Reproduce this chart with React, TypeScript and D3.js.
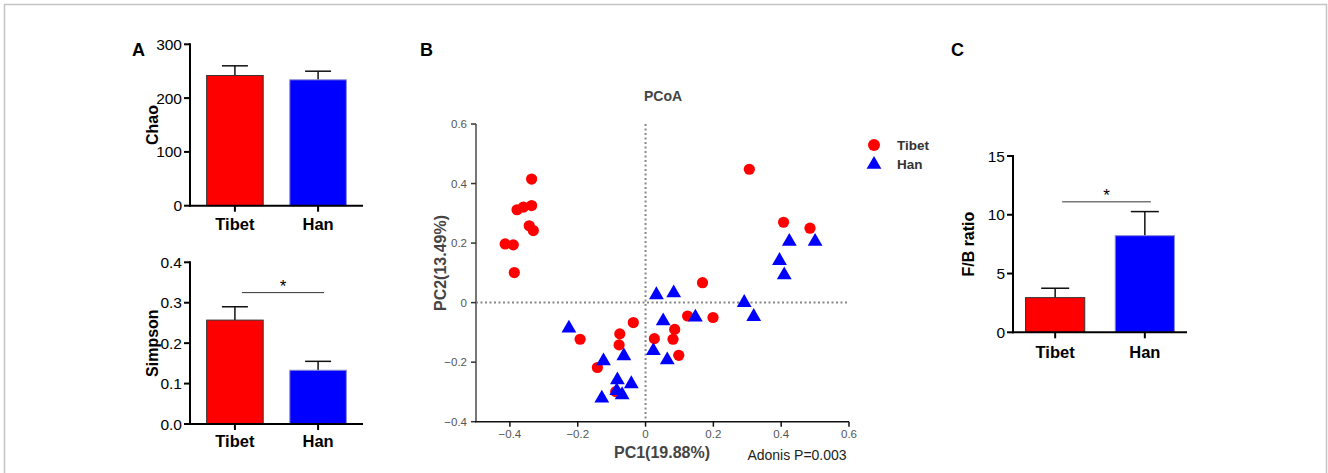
import React from 'react';
import * as d3 from 'd3';

// groups
const groups = ['Tibet', 'Han'];
const barColors = ['#ff0000', '#0000ff'];
const barStrokes = ['#333333', '#8a8ad0'];

// panel A (top) Chao
const chaoMean = [242, 234];
const chaoErr = [18, 16];
const chaoTicks = [0, 100, 200, 300];

// panel A (bottom) Simpson
const simpsonMean = [0.257, 0.133];
const simpsonErr = [0.033, 0.022];
const simpsonTicks = [0, 0.1, 0.2, 0.3, 0.4];
const simpsonSig = 0.325;

// panel C F/B ratio
const fbMean = [2.95, 8.22];
const fbErr = [0.8, 2.05];
const fbTicks = [0, 5, 10, 15];
const fbSig = 11.1;

// panel B PCoA
const tibetPC1 = [-0.336, -0.379, -0.360, -0.336, -0.343, -0.331, -0.414, -0.390, -0.387,
  0.168, -0.036, -0.193, -0.076, -0.078, -0.142, -0.088, 0.124, 0.199, 0.086, 0.026, 0.081, 0.098,
  0.306, 0.407, 0.485];
const tibetPC2 = [0.415, 0.312, 0.321, 0.326, 0.258, 0.242, 0.197, 0.194, 0.101,
  0.067, -0.067, -0.123, -0.105, -0.142, -0.218, -0.299, -0.045, -0.050, -0.090, -0.121, -0.123, -0.177,
  0.448, 0.270, 0.250];
const hanPC1 = [0.032, 0.083, -0.226, 0.052, 0.147, -0.064, -0.124, 0.023, 0.064, -0.083, -0.042,
  -0.085, -0.069, -0.129, 0.291, 0.319, 0.424, 0.500, 0.395, 0.409];
const hanPC2 = [0.026, 0.032, -0.086, -0.062, -0.049, -0.179, -0.196, -0.162, -0.193, -0.260, -0.273,
  -0.296, -0.310, -0.321, 0.000, -0.047, 0.205, 0.205, 0.141, 0.093];
const pc1Ticks = [-0.4, -0.2, 0, 0.2, 0.4, 0.6];
const pc2Ticks = [-0.4, -0.2, 0, 0.2, 0.4, 0.6];

const FONT = 'Arial, "Liberation Sans", sans-serif';

type BarProps = {
  x0: number; x1: number; yTop: number; yBottom: number;
  domain: [number, number]; ticks: number[]; fmt: (v: number) => string;
  means: number[]; errs: number[]; label: string; labelX: number;
  labelBase: number; sig?: number; cap: number;
  padIn: number; padOut: number;
};

function BarPanel(p: BarProps) {
  const y = d3.scaleLinear().domain(p.domain).range([p.yBottom, p.yTop]);
  const x = d3.scaleBand().domain(groups).range([p.x0, p.x1]).paddingInner(p.padIn).paddingOuter(p.padOut);
  const bw = x.bandwidth();
  const midY = (p.yTop + p.yBottom) / 2;
  return (
    <g fontFamily={FONT}>
      {groups.map((g, i) => {
        const bx = x(g)!;
        const cx = bx + bw / 2;
        const top = y(p.means[i]);
        const et = y(p.means[i] + p.errs[i]);
        return (
          <g key={g}>
            <line x1={cx} x2={cx} y1={top} y2={et} stroke="#111" strokeWidth={1.5} />
            <line x1={cx - p.cap / 2} x2={cx + p.cap / 2} y1={et} y2={et} stroke="#111" strokeWidth={1.5} />
            <rect x={bx} y={top} width={bw} height={p.yBottom - top} fill={barColors[i]}
              stroke={barStrokes[i]} strokeWidth={1} />
            <line x1={cx} x2={cx} y1={p.yBottom} y2={p.yBottom + 6} stroke="#000" strokeWidth={2} />
            <text x={cx} y={p.labelBase} textAnchor="middle" fontWeight="bold" fontSize={16.5}>{g}</text>
          </g>
        );
      })}
      <line x1={p.x0} x2={p.x0} y1={p.yTop - 1} y2={p.yBottom + 1} stroke="#000" strokeWidth={2} />
      <line x1={p.x0 - 1} x2={p.x1} y1={p.yBottom} y2={p.yBottom} stroke="#000" strokeWidth={2} />
      {p.ticks.map(t => (
        <g key={t}>
          <line x1={p.x0 - 6} x2={p.x0} y1={y(t)} y2={y(t)} stroke="#000" strokeWidth={2} />
          <text x={p.x0 - 8} y={y(t)} dy="0.36em" textAnchor="end" fontSize={15.5}>{p.fmt(t)}</text>
        </g>
      ))}
      <text transform={`translate(${p.labelX},${midY}) rotate(-90)`} textAnchor="middle" dy="0.36em"
        fontWeight="bold" fontSize={16}>{p.label}</text>
      {p.sig !== undefined && (() => {
        const c0 = x(groups[0])! + bw / 2 + 7;
        const c1 = x(groups[1])! + bw / 2 + 6;
        const sy = y(p.sig);
        return (
          <g>
            <line x1={c0} x2={c1} y1={sy} y2={sy} stroke="#333" strokeWidth={1} />
            <text x={(c0 + c1) / 2} y={sy - 0.5} textAnchor="middle" fontSize={17}>*</text>
          </g>
        );
      })()}
    </g>
  );
}

function Pcoa() {
  const x = d3.scaleLinear().domain([-0.5, 0.6]).range([476, 849]);
  const y = d3.scaleLinear().domain([-0.4, 0.6]).range([421.7, 124]);
  const tri = d3.symbol().type(d3.symbolTriangle).size(95)();
  const fmt = (v: number) => (v === 0 ? '0' : d3.format('.1f')(v));
  return (
    <g fontFamily={FONT}>
      <text x={663} y={101} textAnchor="middle" fontWeight="bold" fontSize={14} fill="#444">PCoA</text>
      <line x1={x(0)} x2={x(0)} y1={y(0.6)} y2={y(-0.4)} stroke="#888" strokeWidth={2} strokeDasharray="2,2.5" />
      <line x1={x(-0.5)} x2={x(0.6)} y1={y(0)} y2={y(0)} stroke="#888" strokeWidth={2} strokeDasharray="2,2.5" />
      {tibetPC1.map((v, i) => (
        <circle key={'t' + i} cx={x(v)} cy={y(tibetPC2[i])} r={5.6} fill="#ff0000" />
      ))}
      {hanPC1.map((v, i) => (
        <path key={'h' + i} d={tri!} transform={`translate(${x(v)},${y(hanPC2[i])})`} fill="#0000ff" />
      ))}
      <line x1={x(-0.5)} x2={x(-0.5)} y1={y(0.6)} y2={y(-0.4)} stroke="#777" strokeWidth={2} />
      {pc2Ticks.map(t => (
        <g key={t}>
          <line x1={x(-0.5) - 5} x2={x(-0.5)} y1={y(t)} y2={y(t)} stroke="#333" strokeWidth={1.5} />
          <text x={x(-0.5) - 9} y={y(t)} dy="0.36em" textAnchor="end" fontSize={11.5} fill="#555">{fmt(t)}</text>
        </g>
      ))}
      <line x1={x(-0.5) - 1} x2={x(0.6)} y1={y(-0.4)} y2={y(-0.4)} stroke="#111" strokeWidth={1.5} />
      {pc1Ticks.map(t => (
        <g key={t}>
          <line x1={x(t)} x2={x(t)} y1={y(-0.4)} y2={y(-0.4) + 5} stroke="#111" strokeWidth={1.5} />
          <text x={x(t)} y={433.5} dy="0.36em" textAnchor="middle" fontSize={11.5} fill="#555">{fmt(t)}</text>
        </g>
      ))}
      <text x={662} y={458} textAnchor="middle" fontWeight="bold" fontSize={16} fill="#444">PC1(19.88%)</text>
      <text transform={`translate(440,263) rotate(-90)`} textAnchor="middle" dy="0.36em" fontWeight="bold"
        fontSize={16} fill="#444">PC2(13.49%)</text>
      <text x={797} y={460} textAnchor="middle" fontSize={14} fill="#222">Adonis P=0.003</text>
      <circle cx={874} cy={145} r={6} fill="#ff0000" />
      <text x={897} y={149.5} fontWeight="bold" fontSize={13.5} fill="#333">Tibet</text>
      <path d={tri!} transform="translate(874,164.5)" fill="#0000ff" />
      <text x={897} y={168.5} fontWeight="bold" fontSize={13.5} fill="#333">Han</text>
    </g>
  );
}

export default function App() {
  return (
    <svg width={1328} height={473} style={{ position: 'absolute', left: 0, top: 0, background: '#fff' }}>
      <rect x={4.5} y={4.5} width={1322} height={500} fill="none" stroke="#c4c4c4" strokeWidth={1.5} />
      <g fontFamily={FONT} fontWeight="bold" fontSize={18}>
        <text x={132} y={56}>A</text>
        <text x={420} y={56}>B</text>
        <text x={951} y={56}>C</text>
      </g>
      <BarPanel x0={190} x1={363} yTop={44.3} yBottom={205.7} domain={[0, 300]} ticks={chaoTicks}
        fmt={d3.format('d')} means={chaoMean} errs={chaoErr} label="Chao" labelX={152} labelBase={230}
        cap={26} padIn={0.32} padOut={0.2} />
      <BarPanel x0={190} x1={363} yTop={262.3} yBottom={424} domain={[0, 0.4]} ticks={simpsonTicks}
        fmt={d3.format('.1f')} means={simpsonMean} errs={simpsonErr} label="Simpson" labelX={152}
        labelBase={447} sig={simpsonSig} cap={26} padIn={0.32} padOut={0.2} />
      <Pcoa />
      <BarPanel x0={1013} x1={1187} yTop={156} yBottom={332.3} domain={[0, 15]} ticks={fbTicks}
        fmt={d3.format('d')} means={fbMean} errs={fbErr} label="F/B ratio" labelX={968}
        labelBase={358} sig={fbSig} cap={28} padIn={0.34} padOut={0.14} />
    </svg>
  );
}
